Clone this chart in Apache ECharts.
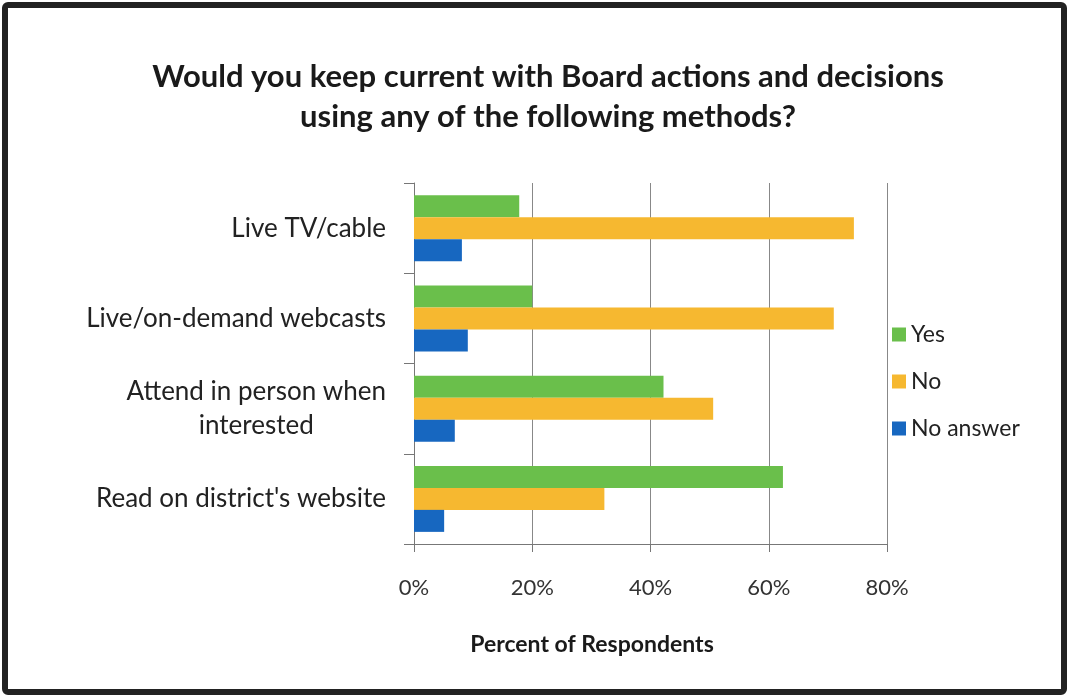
<!DOCTYPE html>
<html>
<head>
<meta charset="utf-8">
<script src="https://cdn.jsdelivr.net/npm/echarts@6/dist/echarts.min.js"></script>
<style>
  html, body { margin: 0; padding: 0; background: #fff; }
  #chart { width: 1068px; height: 696px; }
</style>
</head>
<body>
<div id="chart"></div>
<script>
// categories top to bottom
const categories = ['Live TV/cable', 'Live/on-demand webcasts', 'Attend in person when\ninterested', "Read on district's website"];
const yesValues = [17.8, 20.0, 42.2, 62.4];
const noValues = [74.4, 71.0, 50.6, 32.2];
const noAnswerValues = [8.1, 9.1, 6.9, 5.1];
const xTicks = [0, 20, 40, 60, 80];

const font = 'Lato, "Open Sans", sans-serif';
const chart = echarts.init(document.getElementById('chart'));

const barSeries = (name, data, color) => ({
  name,
  type: 'bar',
  data,
  barWidth: 22,
  barGap: '0%',
  itemStyle: { color },
  animation: false
});

chart.setOption({
  backgroundColor: '#fff',
  animation: false,
  grid: { left: 414, right: 181, top: 183, bottom: 152, containLabel: false },
  legend: {
    orient: 'vertical',
    left: 887,
    top: 318,
    itemWidth: 14,
    itemHeight: 14,
    itemGap: 24,
    icon: 'rect',
    textStyle: { fontFamily: font, fontSize: 23, color: '#222' },
    data: ['Yes', 'No', 'No answer']
  },
  xAxis: {
    type: 'value',
    min: xTicks[0],
    max: xTicks[xTicks.length - 1],
    interval: 20,
    axisLine: { show: true, lineStyle: { color: '#777', width: 1 } },
    axisTick: { show: true, length: 8, inside: false, lineStyle: { color: '#777' } },
    splitLine: { show: true, lineStyle: { color: '#888', width: 1 } },
    axisLabel: {
      formatter: v => v + '%',
      margin: 33,
      fontFamily: font,
      fontSize: 22,
      color: '#333'
    }
  },
  yAxis: {
    type: 'category',
    inverse: true,
    data: categories,
    axisLine: { show: true, lineStyle: { color: '#777', width: 1 } },
    axisTick: { show: true, length: 10, lineStyle: { color: '#777' } },
    axisLabel: {
      margin: 28,
      align: 'right',
      formatter: v => v.split('\n').map(s => '{c|' + s + '}').join('\n'),
      rich: {
        c: {
          align: 'center',
          fontFamily: font,
          fontSize: 26,
          lineHeight: 34,
          color: '#222'
        }
      }
    }
  },
  series: [
    barSeries('Yes', yesValues, '#6abf4b'),
    barSeries('No', noValues, '#f6b830'),
    barSeries('No answer', noAnswerValues, '#1767c0')
  ],
  graphic: [
    {
      type: 'rect',
      shape: { x: 5, y: 5, width: 1059, height: 687, r: 3 },
      style: { fill: 'none', stroke: '#222', lineWidth: 6 },
      silent: true
    },
    {
      type: 'text',
      x: 548,
      y: 97,
      style: {
        text: 'Would you keep current with Board actions and decisions\nusing any of the following methods?',
        textAlign: 'center',
        textVerticalAlign: 'middle',
        fontFamily: font,
        fontWeight: 'bold',
        fontSize: 31,
        lineHeight: 40,
        fill: '#1a1a1a'
      }
    },
    {
      type: 'text',
      x: 592,
      y: 645,
      style: {
        text: 'Percent of Respondents',
        textAlign: 'center',
        textVerticalAlign: 'middle',
        fontFamily: font,
        fontWeight: 'bold',
        fontSize: 23,
        fill: '#1a1a1a'
      }
    }
  ]
});
</script>
</body>
</html>
